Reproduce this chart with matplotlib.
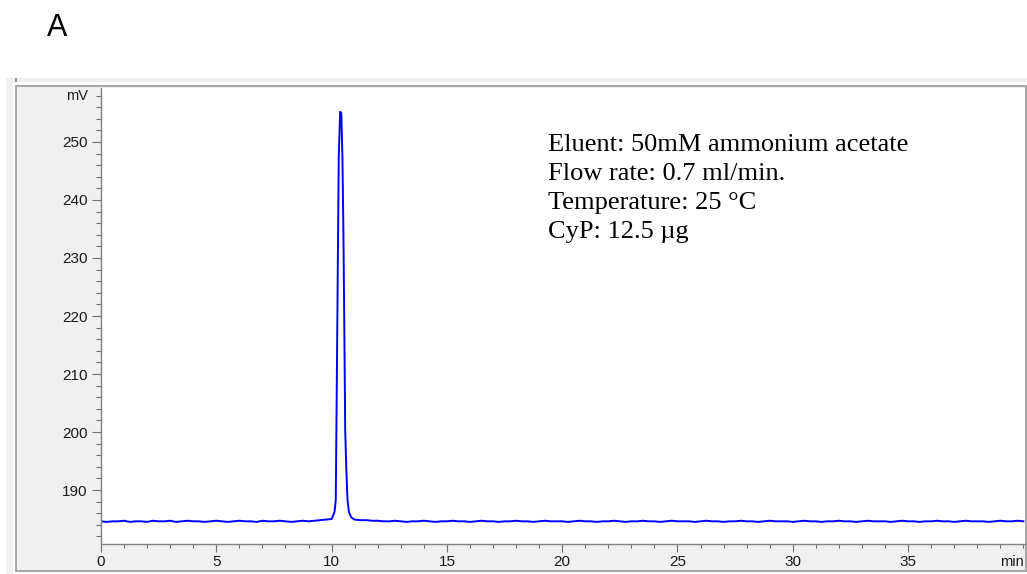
import numpy as np
import matplotlib
matplotlib.use("Agg")
import matplotlib.pyplot as plt
from matplotlib.patches import Rectangle
from matplotlib.ticker import MultipleLocator

# baseline before the peak, every 0.25 min from 0
pre_vals = [184.6, 184.5, 184.6, 184.6, 184.7, 184.5, 184.6, 184.6, 184.5, 184.7,
            184.6, 184.6, 184.7, 184.5, 184.6, 184.7, 184.6, 184.6, 184.5, 184.6,
            184.7, 184.6, 184.5, 184.6, 184.7, 184.6, 184.6, 184.5, 184.7, 184.6,
            184.6, 184.7, 184.6, 184.5, 184.6, 184.7, 184.6, 184.7, 184.8, 184.9]

# the CyP peak
peak_t = [10.00, 10.07, 10.13, 10.18, 10.20, 10.25, 10.31, 10.37, 10.42,
          10.47, 10.51, 10.55, 10.59, 10.64, 10.69, 10.75, 10.85, 10.95]
peak_vals = [185.0, 185.6, 186.3, 188.3, 196.4, 218.8, 247.4, 255.2, 255.0,
             247.4, 235.3, 218.8, 200.3, 193.4, 188.3, 186.2, 185.3, 185.0]

# baseline after the peak, every 0.25 min from 11
post_vals = [184.9, 184.8, 184.8, 184.7, 184.7, 184.6, 184.6, 184.7, 184.6, 184.5,
             184.6, 184.6, 184.7, 184.6, 184.5, 184.6, 184.6, 184.7, 184.6, 184.6,
             184.5, 184.6, 184.7, 184.6, 184.6, 184.5, 184.6, 184.6, 184.7, 184.6,
             184.6, 184.5, 184.6, 184.7, 184.6, 184.6, 184.6, 184.5, 184.6, 184.7,
             184.6, 184.6, 184.5, 184.6, 184.6, 184.7, 184.6, 184.5, 184.6, 184.6,
             184.7, 184.6, 184.6, 184.5, 184.6, 184.7, 184.6, 184.6, 184.6, 184.5,
             184.6, 184.7, 184.6, 184.6, 184.5, 184.6, 184.6, 184.7, 184.6, 184.6,
             184.5, 184.6, 184.7, 184.6, 184.6, 184.6, 184.5, 184.6, 184.7, 184.6,
             184.6, 184.5, 184.6, 184.6, 184.7, 184.6, 184.6, 184.5, 184.6, 184.7,
             184.6, 184.6, 184.6, 184.5, 184.6, 184.7, 184.6, 184.6, 184.5, 184.6,
             184.6, 184.7, 184.6, 184.6, 184.5, 184.6, 184.7, 184.6, 184.6, 184.6,
             184.5, 184.6, 184.7, 184.6, 184.6, 184.7, 184.6]

x_ticks = [0, 5, 10, 15, 20, 25, 30, 35]
y_ticks = [190, 200, 210, 220, 230, 240, 250]
info_lines = ["Eluent: 50mM ammonium acetate", "Flow rate: 0.7 ml/min.",
              "Temperature: 25 \u00b0C", "CyP: 12.5 \u00b5g"]

t = np.concatenate([0.25 * np.arange(len(pre_vals)), peak_t,
                    11.0 + 0.25 * np.arange(len(post_vals))])
mv = np.concatenate([pre_vals, peak_vals, post_vals])

W, H = 1027, 574
fig = plt.figure(figsize=(W / 100, H / 100), dpi=100)


def box(x0, y0, x1, y1, **kw):
    # rectangle given in pixels from top-left
    r = Rectangle((x0 / W, 1 - y1 / H), (x1 - x0) / W, (y1 - y0) / H,
                  transform=fig.transFigure, zorder=-10, **kw)
    fig.patches.append(r)


# window frame around the chromatogram
box(6, 78, 13, 574, facecolor="#f0f0f0", edgecolor="none")
box(13, 78, 1027, 82, facecolor="#f0f0f0", edgecolor="none")
box(15, 78, 16.5, 82, facecolor="#909090", edgecolor="none")
box(16, 86, 1025.5, 571, facecolor="#f0f0f0", edgecolor="#a0a0a0", linewidth=1.3)

ax = fig.add_axes([101 / W, 1 - 544 / H, (1025 - 101) / W, (544 - 88) / H])
ax.set_facecolor("white")
ax.plot(t, mv, color="#0000ff", linewidth=1.4)

ax.set_xlim(0, 40.07)
ax.set_ylim(180.69, 259.31)
for s in ["top", "right"]:
    ax.spines[s].set_visible(False)
for s in ["left", "bottom"]:
    ax.spines[s].set_color("#808080")
    ax.spines[s].set_linewidth(1.0)

ax.set_xticks(x_ticks)
ax.set_yticks(y_ticks)
ax.xaxis.set_minor_locator(MultipleLocator(1))
ax.yaxis.set_minor_locator(MultipleLocator(2))
ax.tick_params(which="both", color="#707070", width=0.8, labelcolor="#1a1a1a",
               labelsize=11)
ax.tick_params(axis="y", which="major", length=6.5, pad=3)
ax.tick_params(axis="y", which="minor", length=3.5)
ax.tick_params(axis="x", which="major", length=6, pad=2)
ax.tick_params(axis="x", which="minor", length=3)
for lab in ax.get_xticklabels() + ax.get_yticklabels():
    lab.set_family("Liberation Sans")

ax.annotate("mV", xy=(0, 258), xycoords=ax.get_yaxis_transform(),
            xytext=(-9, 0), textcoords="offset points", ha="right", va="center",
            fontsize=10.5, family="Liberation Sans", color="#1a1a1a")
ax.annotate("min", xy=(40, 0), xycoords=ax.get_xaxis_transform(),
            xytext=(0, -8), textcoords="offset points", ha="right", va="top",
            fontsize=10.5, family="Liberation Sans", color="#1a1a1a")

fig.text(548 / W, 1 - 134 / H, "\n".join(info_lines), ha="left", va="top",
         fontsize=19, family="Liberation Serif", linespacing=1.42, color="black")

fig.text(47 / W, 1 - 36 / H, "A", ha="left", va="baseline",
         fontsize=22, family="Liberation Sans", color="black")

fig.savefig("out.png", dpi=100)
